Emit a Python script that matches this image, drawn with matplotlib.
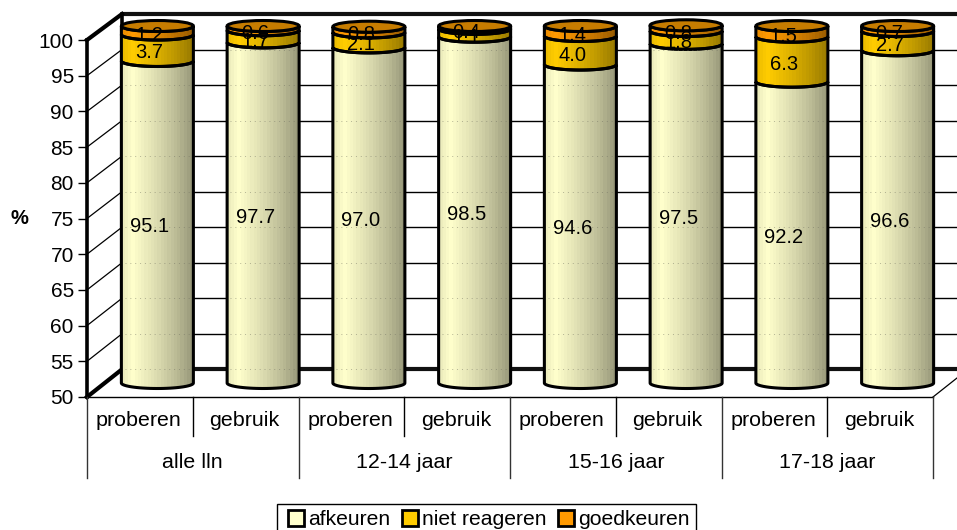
"""
Stacked 3D-look cylinder chart: afkeuren / niet reageren / goedkeuren.
"""

import matplotlib

matplotlib.use("Agg")
import matplotlib.pyplot as plt
import numpy as np
from matplotlib.lines import Line2D
from matplotlib.patches import Ellipse, PathPatch
from matplotlib.path import Path

plt.rcParams["font.family"] = ["Liberation Sans", "DejaVu Sans"]

# ── Data ──────────────────────────────────────────────────────────────────────
GROUPS = ["alle lln", "12-14 jaar", "15-16 jaar", "17-18 jaar"]
SUBGROUPS = ["proberen", "gebruik"] * 4
AFKEUREN = [95.1, 97.7, 97.0, 98.5, 94.6, 97.5, 92.2, 96.6]
NIET_REAGEREN = [3.7, 1.7, 2.1, 1.1, 4.0, 1.8, 6.3, 2.7]
GOEDKEUREN = [1.2, 0.6, 0.8, 0.4, 1.4, 0.8, 1.5, 0.7]
Y_TICKS = list(range(50, 101, 5))
SERIES_NAMES = ["afkeuren", "niet reageren", "goedkeuren"]

# ── Style ─────────────────────────────────────────────────────────────────────
W, H = 957, 530
LEFT, RIGHT, TOP, BOTTOM = 87, 933, 40, 397  # front plane in pixels
N = len(AFKEUREN)
PX_X = (RIGHT - LEFT) / N
PX_Y = (BOTTOM - TOP) / 50
WALL_DX, WALL_DY = 35 / PX_X, 27.7 / PX_Y  # back plane offset, data units
WALL_SCALE = 355.3 / 357  # back plane is a touch shorter than the front
BAR_DX, BAR_DY = 17.5 / PX_X, 14 / PX_Y  # cylinder axis offset
HALF_W, HALF_H = 36 / PX_X, 5.5 / PX_Y  # cylinder radius and ellipse half height

LIGHT = ["#FFFFCC", "#FFCC00", "#FF9900"]
TOP_COLOR = "#C67C00"
SHADE_POS = [0.0, 0.14, 0.5, 0.8, 1.0]
SHADE_VAL = [0.93, 1.0, 0.86, 0.72, 0.6]


def wall_y(v):
    """Data value on the back wall, in front-plane data units."""
    return 50 + WALL_DY + (v - 50) * WALL_SCALE


def shaded_strip(color):
    """Banded left-to-right shading of a base colour, as an RGB image row."""
    rgb = np.array(matplotlib.colors.to_rgb(color))
    bands = np.floor(np.linspace(0, 1, 72, endpoint=False) * 22) / 21
    shade = np.interp(bands, SHADE_POS, SHADE_VAL)
    return (shade[:, None] * rgb)[None, :, :]


def side_path(cx, y0, y1):
    """Cylinder side: front arc at y0 up to front arc at y1."""
    t = np.linspace(np.pi, 2 * np.pi, 40)
    xs = cx + HALF_W * np.cos(t)
    low = y0 + HALF_H * np.sin(t)
    high = y1 + HALF_H * np.sin(t)
    verts = np.r_[np.c_[xs, low], np.c_[xs[::-1], high[::-1]], [[xs[0], low[0]]]]
    return Path(verts, closed=True)


def draw_cylinder(ax, idx):
    cx = idx + 0.5 + BAR_DX
    stack = [AFKEUREN[idx] - 50, NIET_REAGEREN[idx], GOEDKEUREN[idx]]
    shown = [AFKEUREN[idx], NIET_REAGEREN[idx], GOEDKEUREN[idx]]
    tops = 50 + BAR_DY + np.cumsum(stack)
    bottoms = np.r_[50 + BAR_DY, tops[:-1]]

    for y0, y1, color in zip(bottoms, tops, LIGHT):
        img = ax.imshow(
            shaded_strip(color),
            extent=(cx - HALF_W, cx + HALF_W, y0 - HALF_H, y1 + HALF_H),
            aspect="auto",
            interpolation="nearest",
            zorder=3,
        )
        patch = PathPatch(side_path(cx, y0, y1), fc="none", ec="black", lw=2.2, zorder=4, clip_on=False)
        ax.add_patch(patch)
        # the cylinders rise above the axes box, images get cut there otherwise
        img.set_clip_box(ax.figure.bbox)
        img.set_clip_path(patch)

    ax.add_patch(
        Ellipse((cx, tops[-1]), 2 * HALF_W, 2 * HALF_H, fc=TOP_COLOR, ec="black", lw=2.2, zorder=5, clip_on=False)
    )

    # faint dots where the wall gridlines shine through the cylinder
    for v in Y_TICKS:
        yy = wall_y(v)
        if 50 + BAR_DY < yy < tops[0] - HALF_H:
            ax.plot(
                [cx - HALF_W + 0.03, cx + HALF_W - 0.02], [yy, yy],
                color="#707060", lw=0.7, ls=(0, (1, 4)), alpha=0.5, zorder=4.5, clip_on=False,
            )

    # value labels sit a little left of the axis and under the segment middle
    for y0, y1, value in zip(bottoms, tops, shown):
        ax.text(
            cx - 8 / PX_X, (y0 + y1) / 2 - 5 / PX_Y, f"{value:.1f}",
            ha="center", va="center", fontsize=14.5, color="black", zorder=6, clip_on=False,
        )


def main() -> None:
    fig = plt.figure(figsize=(W / 100, H / 100), dpi=100)
    ax = fig.add_axes([LEFT / W, 1 - BOTTOM / H, (RIGHT - LEFT) / W, (BOTTOM - TOP) / H])
    ax.set_xlim(0, N)
    ax.set_ylim(50, 100)
    for spine in ax.spines.values():
        spine.set_visible(False)
    ax.patch.set_alpha(0)

    # ── Walls and gridlines ──────────────────────────────────────────
    far = N + 1
    for v in Y_TICKS:
        is_edge = v in (50, 100)
        ax.plot([WALL_DX, far], [wall_y(v)] * 2, color="black" if not is_edge else "#111111",
                lw=3 if is_edge else 1, zorder=1, clip_on=False, solid_capstyle="butt")
        ax.plot([0, WALL_DX], [v, wall_y(v)], color="black", lw=3 if is_edge else 0.9,
                zorder=1, clip_on=False)
    ax.plot([WALL_DX] * 2, [wall_y(50), wall_y(100)], color="black", lw=2.6, zorder=1, clip_on=False)
    ax.plot([0, 0], [50, 100], color="black", lw=2.6, zorder=2, clip_on=False)
    ax.plot([N, N + WALL_DX], [50, wall_y(50)], color="black", lw=0.9, zorder=1, clip_on=False)

    # ── Cylinders ────────────────────────────────────────────────────
    for idx in range(N):
        draw_cylinder(ax, idx)
    ax.set_xlim(0, N)
    ax.set_ylim(50, 100)

    # ── Axis labels ──────────────────────────────────────────────────
    ax.set_yticks(Y_TICKS)
    ax.set_yticklabels([str(v) for v in Y_TICKS], fontsize=15)
    ax.tick_params(axis="y", length=6.5, width=1, pad=3)
    ax.set_xticks([])
    fig.text(19 / W, 1 - 218 / H, "%", fontsize=14.5, fontweight="bold", ha="center", va="center")

    # ── Two-level category axis ──────────────────────────────────────
    row1 = 39 / PX_Y
    row2 = 81 / PX_Y
    ax.plot([0, N], [50, 50], color="black", lw=1, zorder=2, clip_on=False)
    for i, label in enumerate(SUBGROUPS):
        ax.text(i + 0.49, 50 - 24 / PX_Y, label, ha="center", va="center", fontsize=15.4, clip_on=False)
    for i in range(N + 1):
        depth = row2 if i % 2 == 0 else row1
        ax.plot([i, i], [50, 50 - depth], color="#333333" if i % 2 == 0 else "black", lw=1, clip_on=False)
    for i, label in enumerate(GROUPS):
        ax.text(2 * i + 1, 50 - 65 / PX_Y, label, ha="center", va="center", fontsize=15.4, clip_on=False)

    # ── Legend ───────────────────────────────────────────────────────
    handles = [
        Line2D([], [], ls="none", marker="s", ms=11, mfc=c, mec="black", mew=2) for c in LIGHT
    ]
    fig.legend(
        handles, SERIES_NAMES, loc="center", bbox_to_anchor=(486.5 / W, 1 - 519.5 / H),
        ncol=3, frameon=True, fancybox=False, edgecolor="black", framealpha=1,
        fontsize=15.2, handletextpad=0.0, columnspacing=0.3, borderpad=0.28, handlelength=1.2,
    )

    fig.savefig("out.png", dpi=100)


if __name__ == "__main__":
    main()
